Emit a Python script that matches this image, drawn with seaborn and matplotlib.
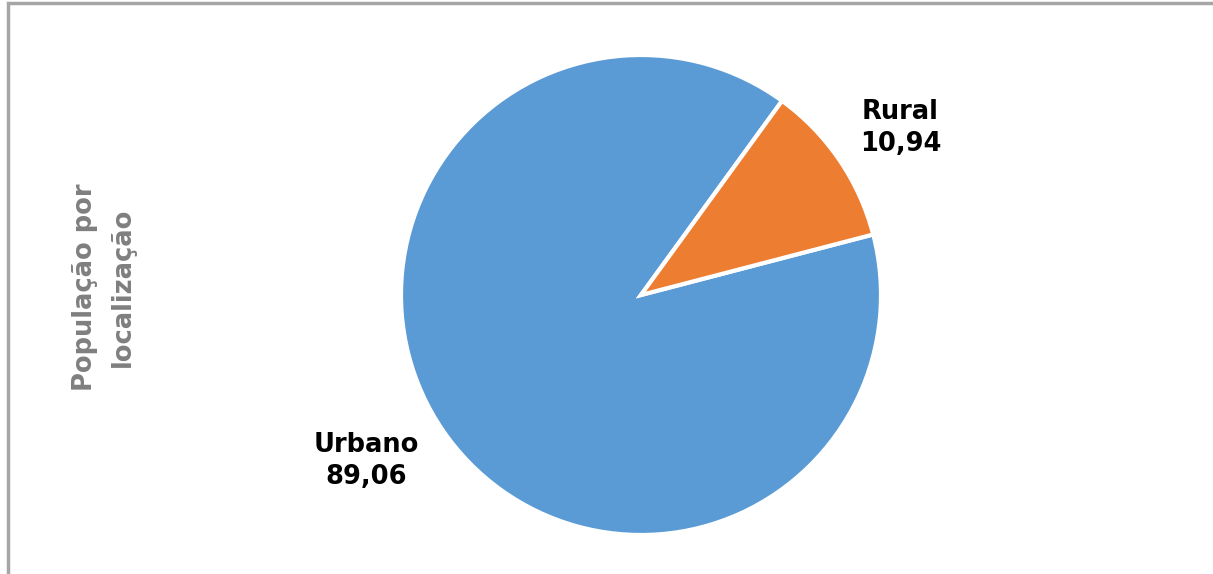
import numpy as np
import matplotlib.pyplot as plt
import seaborn as sns
from matplotlib.patches import Rectangle

sns.set_theme(style="white")
plt.rcParams['font.family'] = ['DejaVu Sans']

# dados
categorias = ["Urbano", "Rural"]
valores = [89.06, 10.94]
cores = ["#5B9BD5", "#ED7D31"]
titulo = "População por\nlocalização"

W, H = 1213, 574
fig = plt.figure(figsize=(W / 100, H / 100), dpi=100)

# moldura cinza
fig.patches.append(Rectangle((8 / W, -0.1), 1.2, 1 - 3 / H + 0.1,
                             transform=fig.transFigure, fill=False,
                             edgecolor="#A6A6A6", linewidth=2.5))

cx, cy, r = 641, 295, 240
ax = fig.add_axes([(cx - r) / W, (H - cy - r) / H, 2 * r / W, 2 * r / H])
wedges, _ = ax.pie(valores, colors=cores, startangle=54, counterclock=True,
                   wedgeprops=dict(edgecolor="white", linewidth=3))
ax.set_xlim(-1, 1)
ax.set_ylim(-1, 1)
ax.set_aspect("equal")
ax.axis("off")

# rótulos (deslocamento em pontos a partir da borda da fatia)
desloc = {"Urbano": (-55, -22), "Rural": (44, 23)}
for w, cat, v in zip(wedges, categorias, valores):
    ang = np.deg2rad((w.theta1 + w.theta2) / 2)
    ax.annotate(f"{cat}\n{v:.2f}".replace(".", ","),
                xy=(np.cos(ang), np.sin(ang)), xytext=desloc[cat],
                textcoords="offset points", ha="center", va="center",
                fontsize=18.5, fontweight="bold", color="black",
                linespacing=1.3)

fig.text(104 / W, 1 - 287 / H, titulo, rotation=90, ha="center", va="center",
         fontsize=18.5, fontweight="bold", color="#7F7F7F", linespacing=1.6)

fig.savefig("out.png", dpi=100)
